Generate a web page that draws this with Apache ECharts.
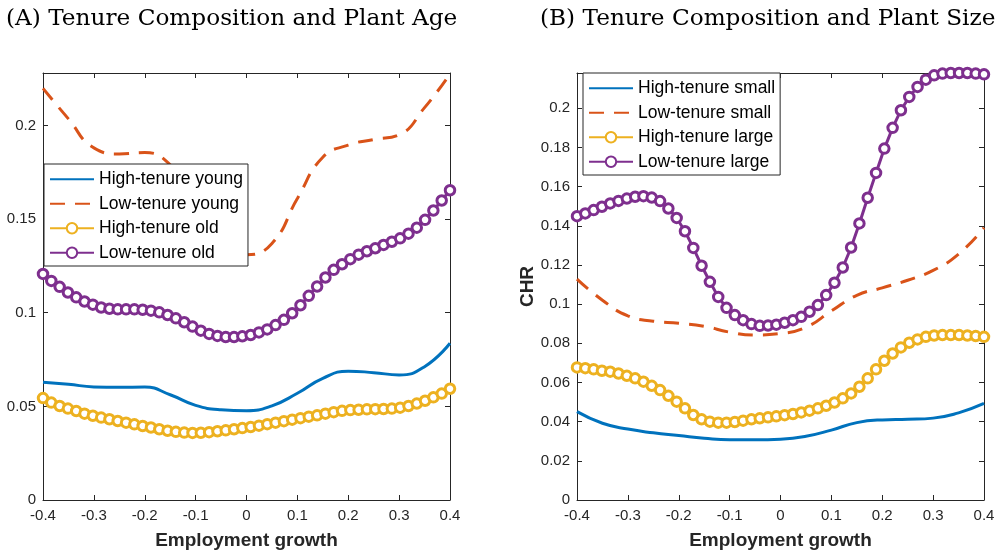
<!DOCTYPE html>
<html>
<head>
<meta charset="utf-8">
<script src="https://cdn.jsdelivr.net/npm/echarts@6/dist/echarts.min.js"></script>
<style>
  html, body { margin: 0; padding: 0; background: #fff; }
  #main { width: 1006px; height: 556px; }
</style>
</head>
<body>
<div id="main"></div>
<script>
// x grid of the marker series (50 points from -0.4 to 0.4)
var xsFine = [-0.4,-0.3837,-0.3673,-0.3510,-0.3347,-0.3184,-0.3020,-0.2857,-0.2694,-0.2531,
  -0.2367,-0.2204,-0.2041,-0.1878,-0.1714,-0.1551,-0.1388,-0.1224,-0.1061,-0.0898,
  -0.0735,-0.0571,-0.0408,-0.0245,-0.0082,0.0082,0.0245,0.0408,0.0571,0.0735,
  0.0898,0.1061,0.1224,0.1388,0.1551,0.1714,0.1878,0.2041,0.2204,0.2367,
  0.2531,0.2694,0.2857,0.3020,0.3184,0.3347,0.3510,0.3673,0.3837,0.4];
// x grid of the plain line series
var xsCoarse = [-0.4,-0.35,-0.3,-0.25,-0.2,-0.15,-0.1,-0.05,0,0.05,0.1,0.15,0.2,0.25,0.3,0.35,0.4];

// (A) plant age
var highYoung = [0.0629,0.0618,0.0604,0.0602,0.0603,0.0562,0.0505,0.0482,0.0477,0.0503,0.0570,0.0650,0.0688,0.0680,0.0668,0.0712,0.0837];
var lowYoung = [0.2198,0.2035,0.1880,0.1848,0.1855,0.1790,0.1600,0.1400,0.1310,0.1370,0.1610,0.1830,0.1895,0.1925,0.1950,0.2095,0.2275];
var highOld = [0.0544,0.0520,0.0502,0.0488,0.0475,0.0461,0.0450,0.0440,0.0431,0.0422,
  0.0413,0.0404,0.0395,0.0387,0.0378,0.0370,0.0364,0.0360,0.0358,0.0359,
  0.0362,0.0367,0.0372,0.0378,0.0384,0.0390,0.0397,0.0405,0.0413,0.0421,
  0.0429,0.0437,0.0445,0.0452,0.0461,0.0469,0.0476,0.0480,0.0482,0.0484,
  0.0485,0.0486,0.0488,0.0493,0.0502,0.0515,0.0530,0.0548,0.0568,0.0594];
var lowOld = [0.1207,0.1170,0.1138,0.1108,0.1082,0.1060,0.1043,0.1028,0.1021,0.1018,
  0.1018,0.1018,0.1016,0.1011,0.1002,0.0988,0.0970,0.0949,0.0926,0.0904,
  0.0887,0.0876,0.0870,0.0870,0.0874,0.0881,0.0895,0.0911,0.0934,0.0962,
  0.0997,0.1040,0.1090,0.1140,0.1188,0.1229,0.1259,0.1286,0.1310,0.1328,
  0.1344,0.1362,0.1379,0.1397,0.1422,0.1454,0.1496,0.1546,0.1599,0.1654];

// (B) plant size
var highSmall = [0.0451,0.0392,0.0362,0.0343,0.0329,0.0315,0.0307,0.0307,0.0310,0.0325,0.0357,0.0395,0.0409,0.0412,0.0418,0.0445,0.0493];
var lowSmall = [0.1128,0.1020,0.0940,0.0913,0.0902,0.0887,0.0857,0.0842,0.0850,0.0882,0.0965,0.1045,0.1083,0.1122,0.1172,0.1255,0.1390];
var highLarge = [0.0677,0.0673,0.0667,0.0660,0.0655,0.0646,0.0634,0.0621,0.0604,0.0583,
  0.0561,0.0532,0.0502,0.0468,0.0434,0.0412,0.0400,0.0395,0.0395,0.0398,
  0.0405,0.0412,0.0417,0.0422,0.0427,0.0433,0.0439,0.0447,0.0456,0.0468,
  0.0481,0.0498,0.0519,0.0544,0.0578,0.0621,0.0667,0.0711,0.0748,0.0779,
  0.0803,0.0820,0.0833,0.0840,0.0842,0.0842,0.0842,0.0840,0.0837,0.0833];
var lowLarge = [0.1449,0.1463,0.1480,0.1497,0.1514,0.1527,0.1539,0.1548,0.1551,0.1544,
  0.1526,0.1488,0.1440,0.1372,0.1287,0.1196,0.1114,0.1037,0.0981,0.0944,
  0.0918,0.0898,0.0889,0.0891,0.0895,0.0905,0.0918,0.0935,0.0961,0.0995,
  0.1046,0.1109,0.1187,0.1289,0.1412,0.1543,0.1670,0.1794,0.1900,0.1990,
  0.2058,0.2109,0.2146,0.2168,0.2177,0.2180,0.2180,0.2180,0.2177,0.2173];

var BLUE = '#0072BD', ORANGE = '#D95319', YELLOW = '#EDB120', PURPLE = '#7E2F8E';
var AX = '#262626';

function pairs(xs, ys) {
  return ys.map(function (v, i) { return [xs[i], v]; });
}

function plainLine(name, xs, ys, color, dashed, gi) {
  return {
    name: name, type: 'line', xAxisIndex: gi * 2, yAxisIndex: gi * 2,
    data: pairs(xs, ys), smooth: 0.5,
    symbol: 'none', clip: false,
    lineStyle: { color: color, width: 3, type: dashed ? [15, 10] : 'solid' },
    itemStyle: { color: color }
  };
}
function markerLine(name, xs, ys, color, gi) {
  return {
    name: name, type: 'line', xAxisIndex: gi * 2, yAxisIndex: gi * 2,
    data: pairs(xs, ys), symbol: 'circle', symbolSize: 9.5, showSymbol: true, clip: false,
    lineStyle: { color: color, width: 3 },
    itemStyle: { color: '#fff', borderColor: color, borderWidth: 3 }
  };
}

function xAxes(gi) {
  var base = {
    type: 'value', gridIndex: gi, min: -0.4, max: 0.4, interval: 0.1,
    axisLine: { onZero: false, lineStyle: { color: AX, width: 1 } },
    axisTick: { inside: true, length: 5, lineStyle: { color: AX } },
    splitLine: { show: false }
  };
  var bottom = Object.assign({}, base, {
    position: 'bottom',
    axisLabel: { color: AX, fontSize: 15, fontFamily: 'Liberation Sans', margin: 8 },
    name: 'Employment growth', nameLocation: 'middle', nameGap: 31,
    nameTextStyle: { color: AX, fontSize: 19, fontWeight: 'bold', fontFamily: 'Liberation Sans' }
  });
  var top = Object.assign({}, base, { position: 'top', axisLabel: { show: false } });
  return [bottom, top];
}
function yAxes(gi, max, interval, name) {
  var base = {
    type: 'value', gridIndex: gi, min: 0, max: max, interval: interval,
    axisLine: { onZero: false, lineStyle: { color: AX, width: 1 } },
    axisTick: { inside: true, length: 5, lineStyle: { color: AX } },
    splitLine: { show: false }
  };
  var left = Object.assign({}, base, {
    position: 'left',
    axisLabel: { color: AX, fontSize: 15, fontFamily: 'Liberation Sans', margin: 7, showMaxLabel: false }
  });
  if (name) {
    left.name = name; left.nameLocation = 'middle'; left.nameGap = 40; left.nameRotate = 90;
    left.nameTextStyle = { color: AX, fontSize: 19, fontWeight: 'bold', fontFamily: 'Liberation Sans' };
  }
  var right = Object.assign({}, base, { position: 'right', axisLabel: { show: false } });
  return [left, right];
}

var legendBase = {
  orient: 'vertical', backgroundColor: '#fff', borderColor: AX, borderWidth: 1,
  padding: [6, 5, 4, 5], itemWidth: 44, itemHeight: 13, itemGap: 6, borderRadius: 0,
  textStyle: { color: '#000', fontSize: 17.5, lineHeight: 18.5, fontFamily: 'Liberation Sans' }
};
// plain lines get no marker in their legend icon
function noMark(name) { return { name: name, itemStyle: { opacity: 0 } }; }

var chart = echarts.init(document.getElementById('main'));
chart.setOption({
  animation: false,
  title: [
    { text: '(A) Tenure Composition and Plant Age', left: 1, top: 2,
      textStyle: { fontFamily: 'DejaVu Serif', fontWeight: 'normal', fontSize: 23.2, color: '#000' } },
    { text: '(B) Tenure Composition and Plant Size', left: 535, top: 2,
      textStyle: { fontFamily: 'DejaVu Serif', fontWeight: 'normal', fontSize: 23.2, color: '#000' } }
  ],
  legend: [
    Object.assign({}, legendBase, { left: 44, top: 164,
      data: [noMark('High-tenure young'), noMark('Low-tenure young'), 'High-tenure old', 'Low-tenure old'] }),
    Object.assign({}, legendBase, { left: 583, top: 73,
      data: [noMark('High-tenure small'), noMark('Low-tenure small'), 'High-tenure large', 'Low-tenure large'] })
  ],
  grid: [
    { left: 43, right: 556, top: 73, bottom: 56 },
    { left: 577, right: 22, top: 73, bottom: 56 }
  ],
  xAxis: xAxes(0).concat(xAxes(1)),
  yAxis: yAxes(0, 0.228, 0.05, '').concat(yAxes(1, 0.218, 0.02, 'CHR')),
  series: [
    plainLine('High-tenure young', xsCoarse, highYoung, BLUE, false, 0),
    plainLine('Low-tenure young', xsCoarse, lowYoung, ORANGE, true, 0),
    markerLine('High-tenure old', xsFine, highOld, YELLOW, 0),
    markerLine('Low-tenure old', xsFine, lowOld, PURPLE, 0),
    plainLine('High-tenure small', xsCoarse, highSmall, BLUE, false, 1),
    plainLine('Low-tenure small', xsCoarse, lowSmall, ORANGE, true, 1),
    markerLine('High-tenure large', xsFine, highLarge, YELLOW, 1),
    markerLine('Low-tenure large', xsFine, lowLarge, PURPLE, 1)
  ]
});
</script>
</body>
</html>
